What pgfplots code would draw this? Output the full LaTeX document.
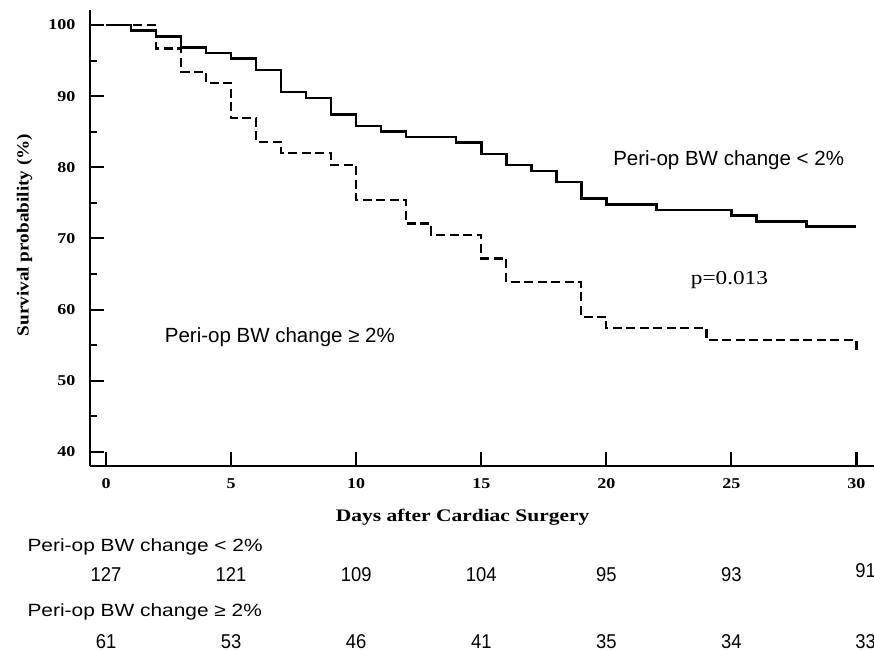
\documentclass[border=0pt]{standalone}
\usepackage{fontspec}
\setmainfont{Liberation Serif}
\newfontfamily\tickfont[FakeStretch=1.2]{Liberation Serif}
\newfontfamily\ylabfont[FakeStretch=1.13]{Liberation Serif}
\newfontfamily\xlabfont[FakeStretch=1.22]{Liberation Serif}
\newfontfamily\pfont[FakeStretch=1.18]{Liberation Serif}
\newfontfamily\annfont{Liberation Sans}
\newfontfamily\tabfont[FakeStretch=1.18]{Liberation Sans}
\newfontfamily\numfont[FakeStretch=0.92]{Liberation Sans}
\usepackage{pgfplots}
\pgfplotsset{compat=1.18}
\tikzset{numr/.style={anchor=base, font=\numfont\fontsize{20}{20}\selectfont}}
\begin{document}
\begin{tikzpicture}
\begin{axis}[name=ax, scale only axis, width=784pt, height=456pt,
  xmin=-0.64, xmax=30.7, ymin=38.03, ymax=102.1,
  axis x line*=bottom, axis y line*=left,
  axis line style={line width=2.8pt, black},
  tick align=inside, major tick length=14pt, minor tick length=7pt,
  every tick/.style={line width=2pt, black},
  xtick={0,5,...,30}, ytick={40,50,...,100}, minor ytick={45,55,...,95},
  /pgf/number format/assume math mode=true,
  xticklabel style={font=\tickfont\bfseries\fontsize{15}{15}\selectfont, yshift=-9pt},
  yticklabel style={font=\tickfont\bfseries\fontsize{15}{15}\selectfont, xshift=-11pt},
  xlabel={Days after Cardiac Surgery},
  xlabel style={font=\xlabfont\bfseries\fontsize{17.6}{17.6}\selectfont, at={(rel axis cs:0.4753,-0.12215)}, anchor=base},
  ylabel={Survival probability (\%)},
  ylabel style={font=\ylabfont\bfseries\fontsize{17}{17}\selectfont, at={(rel axis cs:-0.0835,0.5066)}, anchor=center},
  clip=false]
\addplot[const plot, black, line width=2.5pt] coordinates {
(0,100) (1,99.2) (2,98.4) (3,96.85) (4,96.06) (5,95.3) (6,93.7) (7,90.55)
(8,89.76) (9,87.4) (10,85.8) (11,85.0) (12,84.25) (14,83.46) (15,81.9)
(16,80.3) (17,79.5) (18,77.95) (19,75.6) (20,74.8) (22,74.0) (25,73.2)
(26,72.4) (28,71.65) (30,71.65)};
\addplot[const plot, black, line width=2.3pt, dash pattern=on 9pt off 4.5pt] coordinates {
(0,100) (2,96.7) (3,93.4) (4,91.8) (5,86.9) (6,83.6) (7,82.0) (9,80.3)
(10,75.4) (12,72.1) (13,70.5) (15,67.2) (16,63.9) (19,59.0) (20,57.4)
(24,55.7) (30,54.1)};
\node[anchor=base, font=\annfont\fontsize{20.5}{20.5}\selectfont] at (axis cs:24.89,80.19) {Peri-op BW change < 2\%};
\node[anchor=base, font=\pfont\fontsize{19.7}{19.7}\selectfont] at (axis cs:24.92,63.47) {p=0.013};
\node[anchor=base, font=\annfont\fontsize{20.5}{20.5}\selectfont] at (axis cs:6.95,55.32) {Peri-op BW change ≥ 2\%};
% numbers at risk
\node[anchor=base west, font=\tabfont\fontsize{17.7}{17.7}\selectfont, yshift=-85.7pt] at (axis cs:-3.277,38.03) {Peri-op BW change < 2\%};
\node[anchor=base west, font=\tabfont\fontsize{17.7}{17.7}\selectfont, yshift=-150.7pt] at (axis cs:-3.277,38.03) {Peri-op BW change ≥ 2\%};
\node[numr, yshift=-115.7pt] at (axis cs:0,38.03) {127};
\node[numr, yshift=-115.7pt] at (axis cs:5,38.03) {121};
\node[numr, yshift=-115.7pt] at (axis cs:10,38.03) {109};
\node[numr, yshift=-115.7pt] at (axis cs:15,38.03) {104};
\node[numr, yshift=-115.7pt] at (axis cs:20,38.03) {95};
\node[numr, yshift=-115.7pt] at (axis cs:25,38.03) {93};
\node[numr, yshift=-112pt] at (axis cs:30.36,38.03) {91};
\node[numr, yshift=-182.5pt] at (axis cs:0,38.03) {61};
\node[numr, yshift=-182.5pt] at (axis cs:5,38.03) {53};
\node[numr, yshift=-182.5pt] at (axis cs:10,38.03) {46};
\node[numr, yshift=-182.5pt] at (axis cs:15,38.03) {41};
\node[numr, yshift=-182.5pt] at (axis cs:20,38.03) {35};
\node[numr, yshift=-182.5pt] at (axis cs:25,38.03) {34};
\node[numr, yshift=-182.5pt] at (axis cs:30.36,38.03) {33};
\end{axis}
\pgfresetboundingbox
\path[use as bounding box] ([xshift=-90pt,yshift=10pt]ax.north west) rectangle ([yshift=-185pt]ax.south east);
\end{tikzpicture}
\end{document}
